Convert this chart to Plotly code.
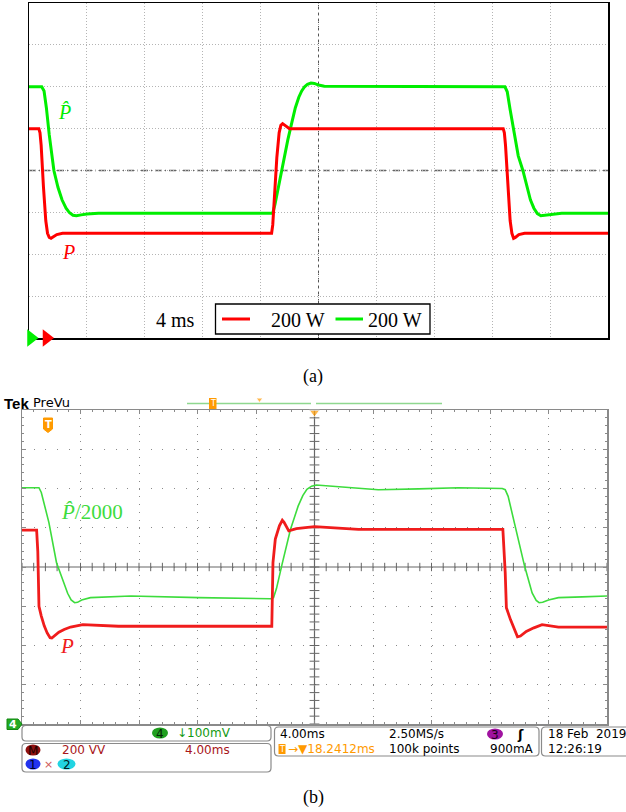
import numpy as np
import plotly.graph_objects as go

W, H = 626, 812

# ---------------- data (in scope divisions) ----------------
# panel (a): simulation, x in divisions (4 ms/div), y in divisions (200 W/div)
a_red_t = [0, 0.17, 0.19, 0.21, 0.25, 0.29, 0.32, 0.35, 0.38, 0.42, 0.48, 0.58,
           4.19, 4.21, 4.24, 4.28, 4.32, 4.35, 4.38, 4.41, 4.45, 4.5,
           8.19, 8.21, 8.23, 8.27, 8.31, 8.34, 8.37, 8.40, 8.46, 8.56, 10]
a_red_v = [1.0, 1.0, 0.9, 0.6, -0.4, -1.2, -1.5, -1.6, -1.62, -1.58, -1.53, -1.5,
           -1.5, -1.3, -0.6, 0.3, 0.9, 1.08, 1.12, 1.09, 1.03, 1.0,
           1.0, 0.9, 0.6, -0.4, -1.2, -1.5, -1.62, -1.6, -1.53, -1.5, -1.5]
a_green_t = [0, 0.22, 0.26, 0.30, 0.35, 0.43, 0.50, 0.57, 0.64, 0.70, 0.76, 0.82, 0.90, 1.0, 1.2,
             4.21, 4.25, 4.33, 4.40, 4.47, 4.54, 4.60, 4.66, 4.71, 4.76, 4.81, 4.87, 4.93, 5.0, 5.1,
             8.22, 8.26, 8.31, 8.37, 8.45, 8.53, 8.60, 8.66, 8.72, 8.78, 8.84, 8.92, 9.02, 9.2, 10]
a_green_v = [2.0, 2.0, 1.9, 1.5, 0.85, 0.0, -0.4, -0.7, -0.9, -1.01, -1.07, -1.08, -1.06, -1.04, -1.02,
             -1.02, -0.8, -0.22, 0.3, 0.73, 1.15, 1.5, 1.75, 1.9, 2.0, 2.06, 2.09, 2.08, 2.04, 2.01,
             2.0, 1.88, 1.45, 0.95, 0.35, 0.0, -0.4, -0.7, -0.9, -1.03, -1.08, -1.07, -1.05, -1.02, -1.02]

# panel (b): oscilloscope capture
b_green_t = [0, 0.29, 0.33, 0.38, 0.46, 0.59, 0.70, 0.78, 0.84, 0.90, 0.95, 1.02, 1.17, 1.86, 3.02, 4.25,
             4.30, 4.35, 4.45, 4.59, 4.72, 4.80, 4.87, 4.95, 5.03, 5.27, 5.7, 6.09, 6.78, 7.46, 8.21,
             8.26, 8.31, 8.42, 8.59, 8.72, 8.79, 8.84, 8.90, 9.0, 9.17, 9.58, 10]
b_green_v = [2.02, 2.02, 1.9, 1.6, 1.13, 0.11, -0.36, -0.67, -0.84, -0.91, -0.9, -0.84, -0.78, -0.74, -0.78, -0.81,
             -0.78, -0.55, 0.1, 0.96, 1.55, 1.82, 1.98, 2.06, 2.09, 2.06, 2.0, 1.97, 1.99, 2.02, 2.0,
             1.97, 1.8, 1.13, 0.03, -0.66, -0.85, -0.91, -0.9, -0.84, -0.78, -0.76, -0.74]
b_red_t = [0, 0.25, 0.27, 0.29, 0.33, 0.38, 0.43, 0.48, 0.51, 0.56, 0.63, 0.72, 0.83, 1.04, 1.65, 3.02, 4.27,
           4.29, 4.33, 4.40, 4.43, 4.45, 4.48, 4.51, 4.56, 4.69, 5.0, 5.75, 7.12, 8.22,
           8.26, 8.28, 8.35, 8.42, 8.47, 8.52, 8.62, 8.75, 8.89, 9.17, 10]
b_red_v = [0.94, 0.94, 0.4, -1.0, -1.25, -1.5, -1.68, -1.8, -1.81, -1.74, -1.66, -1.59, -1.53, -1.47, -1.51, -1.51, -1.51,
           0.11, 0.71, 1.05, 1.16, 1.19, 1.14, 1.05, 0.92, 0.98, 1.03, 0.96, 0.95, 0.96,
           -0.14, -1.04, -1.34, -1.62, -1.78, -1.76, -1.64, -1.55, -1.47, -1.53, -1.53]

legend_labels = ["4 ms", "200 W", "200 W"]
scope_row1 = ["4.00ms", "2.50MS/s"]
scope_row2 = ["100k points", "900mA"]

# ---------------- helpers ----------------
def dom_x(a, b):
    return [a / W, b / W]

def dom_y(top, bottom):
    return [1 - bottom / H, 1 - top / H]

def rrect(x0, y0, x1, y1, r):
    return (f"M{x0+r},{y0} L{x1-r},{y0} Q{x1},{y0} {x1},{y0+r} L{x1},{y1-r} Q{x1},{y1} {x1-r},{y1} "
            f"L{x0+r},{y1} Q{x0},{y1} {x0},{y1-r} L{x0},{y0+r} Q{x0},{y0} {x0+r},{y0} Z")

SERIF = "Liberation Serif, Times New Roman, serif"
SANS = "DejaVu Sans, sans-serif"

fig = go.Figure()

# ---- panel (a) traces
fig.add_trace(go.Scatter(x=a_green_t, y=a_green_v, mode="lines", line=dict(color="#00ee00", width=3),
                         xaxis="x", yaxis="y", hoverinfo="skip"))
fig.add_trace(go.Scatter(x=a_red_t, y=a_red_v, mode="lines", line=dict(color="#ff0000", width=3),
                         xaxis="x", yaxis="y", hoverinfo="skip"))

# ---- panel (b) center-cross ticks
tick_x = np.round(np.arange(0, 10.001, 0.2), 3)
tick_y = np.round(np.arange(-4, 4.001, 0.2), 3)
fig.add_trace(go.Scatter(x=tick_x, y=np.zeros_like(tick_x), mode="markers",
                         marker=dict(symbol="line-ns", size=6, line=dict(color="#666", width=1)),
                         xaxis="x2", yaxis="y2", hoverinfo="skip"))
fig.add_trace(go.Scatter(x=np.full_like(tick_y, 5.0), y=tick_y, mode="markers",
                         marker=dict(symbol="line-ew", size=7, line=dict(color="#666", width=1)),
                         xaxis="x2", yaxis="y2", hoverinfo="skip"))

# ---- panel (b) traces
fig.add_trace(go.Scatter(x=b_green_t, y=b_green_v, mode="lines", line=dict(color="#3ddc3d", width=1.6),
                         xaxis="x2", yaxis="y2", hoverinfo="skip"))
fig.add_trace(go.Scatter(x=b_red_t, y=b_red_v, mode="lines", line=dict(color="#f01c1c", width=2.8),
                         xaxis="x2", yaxis="y2", hoverinfo="skip"))

# ---- overlay (pixel coords) markers
fig.add_trace(go.Scatter(x=[31], y=[338], mode="markers", marker=dict(symbol="triangle-right", size=15, color="#00ee00"),
                         xaxis="x3", yaxis="y3", hoverinfo="skip", cliponaxis=False))
fig.add_trace(go.Scatter(x=[46.5], y=[338], mode="markers", marker=dict(symbol="triangle-right", size=15, color="#ff0000"),
                         xaxis="x3", yaxis="y3", hoverinfo="skip", cliponaxis=False))
fig.add_trace(go.Scatter(x=[259.5, 314.5], y=[399.5, 412.5], mode="markers",
                         marker=dict(symbol="triangle-down", size=[6, 9], color="#ff9a00"),
                         xaxis="x3", yaxis="y3", hoverinfo="skip", cliponaxis=False))

shapes = []
# (a) centre lines
shapes.append(dict(type="line", xref="x", yref="y", x0=5, x1=5, y0=-4, y1=4, layer="below",
                   line=dict(color="#555", width=1, dash="4px,3px")))
shapes.append(dict(type="line", xref="x", yref="y", x0=0, x1=10, y0=0, y1=0, layer="below",
                   line=dict(color="#666", width=1.4, dash="7px,3px,1px,3px")))
# (a) legend box
shapes.append(dict(type="rect", xref="x3", yref="y3", x0=215.5, x1=430, y0=304, y1=334, layer="above",
                   fillcolor="white", line=dict(color="black", width=1.3)))
shapes.append(dict(type="line", xref="x3", yref="y3", x0=222, x1=250, y0=319, y1=319, layer="above",
                   line=dict(color="#ff0000", width=3)))
shapes.append(dict(type="line", xref="x3", yref="y3", x0=335.5, x1=363, y0=319, y1=319, layer="above",
                   line=dict(color="#00ee00", width=3)))
# (b) centre cross
shapes.append(dict(type="line", xref="x2", yref="y2", x0=5, x1=5, y0=-4, y1=4, layer="below",
                   line=dict(color="#666", width=1.2)))
shapes.append(dict(type="line", xref="x2", yref="y2", x0=0, x1=10, y0=0, y1=0, layer="below",
                   line=dict(color="#666", width=1.2)))
# (b) top green record bar
shapes.append(dict(type="line", xref="x3", yref="y3", x0=187, x1=311, y0=403.5, y1=403.5,
                   line=dict(color="#8fd88f", width=1.5)))
shapes.append(dict(type="line", xref="x3", yref="y3", x0=316, x1=442, y0=403.5, y1=403.5,
                   line=dict(color="#8fd88f", width=1.5)))
shapes.append(dict(type="rect", xref="x3", yref="y3", x0=209, x1=216.5, y0=398, y1=409,
                   fillcolor="#ff9a00", line=dict(width=0)))
# orange trigger marker inside
shapes.append(dict(type="path", xref="x3", yref="y3",
                   path="M43.5,418 L52.5,418 L52.5,429 L48,432.5 L43.5,429 Z",
                   fillcolor="#ff9a00", line=dict(color="#ff9a00", width=1)))
# green ch4 marker
shapes.append(dict(type="path", xref="x3", yref="y3",
                   path="M7,719 L18,719 L22,724 L18,729.5 L7,729.5 Z",
                   fillcolor="#22aa22", line=dict(color="#118811", width=1)))
# bottom info boxes
for (x0, y0, x1, y1) in [(22, 725.5, 271, 741), (22, 743.5, 271, 772), (274.5, 727, 539, 756), (541.5, 727, 640, 756)]:
    shapes.append(dict(type="path", xref="x3", yref="y3", path=rrect(x0, y0, x1, y1, 4),
                       fillcolor="rgba(255,255,255,0)", line=dict(color="#8a8a8a", width=1.2)))
# coloured channel badges
for (cx, cy, w, h, col) in [(160, 733, 16, 11, "#1f9f1f"), (33, 750, 15, 11, "#8e1010"), (33, 764, 15, 11, "#2233ee"),
                            (66.5, 764, 18, 11, "#22d4e2"), (495, 734, 16, 11, "#a012a0")]:
    shapes.append(dict(type="circle", xref="x3", yref="y3", x0=cx - w / 2, x1=cx + w / 2, y0=cy - h / 2, y1=cy + h / 2,
                       fillcolor=col, line=dict(width=0)))
shapes.append(dict(type="rect", xref="x3", yref="y3", x0=278.5, x1=285.5, y0=744, y1=754,
                   fillcolor="#ff9a00", line=dict(width=0)))

ann = []
def txt(x, y, s, size, color="black", family=SANS, xanchor="left", yanchor="middle", **kw):
    ann.append(dict(x=x, y=y, xref="x3", yref="y3", text=s, showarrow=False, xanchor=xanchor, yanchor=yanchor,
                    font=dict(family=family, size=size, color=color), **kw))

# (a) texts
txt(175, 320, legend_labels[0], 20, family=SERIF, xanchor="center")
txt(269, 320, legend_labels[1], 20, family=SERIF)
txt(366, 320, legend_labels[2], 20, family=SERIF)
txt(64, 112, "<i>P\u0302</i>", 20, color="#00ee00", family=SERIF, xanchor="center")
txt(68, 252, "<i>P</i>", 20, color="#ff0000", family=SERIF, xanchor="center")
txt(313, 376, "(a)", 18, family=SERIF, xanchor="center")
txt(313, 797, "(b)", 18, family=SERIF, xanchor="center")

# (b) texts
txt(2, 403, "<b>Tek</b>", 15, family="Liberation Sans, sans-serif")
txt(31, 402, "PreVu", 13)
txt(212.8, 403.5, "T", 8, color="white", xanchor="center")
txt(48, 424, "<b>T</b>", 10, color="white", xanchor="center")
txt(13, 724.5, "<b>4</b>", 11, color="white", xanchor="center")
txt(59, 512, "<i>P\u0302</i>/2000", 21, color="#3ddc3d", family=SERIF)
txt(67, 646, "<i>P</i>", 21, color="#f01c1c", family=SERIF, xanchor="center")

txt(160, 733.5, "4", 12, color="#052505", xanchor="center")
txt(175, 733, "↓100mV", 12, color="#139a13")
txt(33, 750.5, "M", 12, color="#1a0000", xanchor="center")
txt(60, 750, "200 VV", 12, color="#a8161a")
txt(183, 750, "4.00ms", 12, color="#a8161a")
txt(33, 764.5, "1", 12, color="#000022", xanchor="center")
txt(48, 764, "×", 11, color="#d05a5a", xanchor="center")
txt(66.5, 764.5, "2", 12, color="#002022", xanchor="center")

txt(278, 734, scope_row1[0], 12)
txt(387, 734, scope_row1[1], 12)
txt(495, 734.5, "3", 12, color="#1a001a", xanchor="center")
txt(520, 734, "<b>ʃ</b>", 13, xanchor="center")
txt(282, 749, "T", 8, color="white", xanchor="center")
txt(286, 749, "→▼18.2412ms", 12, color="#ff9a00")
txt(387, 749, scope_row2[0], 12)
txt(488, 749, scope_row2[1], 12)
txt(546, 734, "18 Feb  2019", 12)
txt(546, 749, "12:26:19", 12)

common_hidden = dict(showticklabels=False, zeroline=False, fixedrange=True)

fig.update_layout(
    width=W, height=H, autosize=False,
    margin=dict(l=0, r=0, t=0, b=0, pad=0),
    paper_bgcolor="white", plot_bgcolor="rgba(0,0,0,0)",
    showlegend=False,
    xaxis=dict(domain=dom_x(29, 608), range=[0, 10], dtick=1, tick0=0, showgrid=True, gridcolor="#b4b4b4",
               griddash="1px,2px", gridwidth=1, showline=True, linecolor="black", linewidth=1.5, mirror=True,
               ticks="", anchor="y", **common_hidden),
    yaxis=dict(domain=dom_y(3, 338), range=[-4, 4], dtick=1, tick0=0, showgrid=True, gridcolor="#b4b4b4",
               griddash="1px,2px", gridwidth=1, showline=True, linecolor="black", linewidth=1.5, mirror=True,
               ticks="", anchor="x", **common_hidden),
    xaxis2=dict(domain=dom_x(22, 607), range=[0, 10], dtick=1, tick0=0, showgrid=True, gridcolor="#8a8a8a",
                griddash="1px,6.85px", gridwidth=1, showline=True, linecolor="#8a8a8a", linewidth=1.5, mirror="ticks",
                ticks="inside", ticklen=4, tickcolor="#8a8a8a",
                minor=dict(dtick=0.2, tick0=0, ticks="inside", ticklen=2, tickcolor="#8a8a8a", showgrid=False),
                anchor="y2", **common_hidden),
    yaxis2=dict(domain=dom_y(410, 724), range=[-4, 4], dtick=1, tick0=0, showgrid=True, gridcolor="#8a8a8a",
                griddash="1px,10.7px", gridwidth=1, showline=True, linecolor="#8a8a8a", linewidth=1.5, mirror="ticks",
                ticks="inside", ticklen=4, tickcolor="#8a8a8a",
                minor=dict(dtick=0.2, tick0=0, ticks="inside", ticklen=2, tickcolor="#8a8a8a", showgrid=False),
                anchor="x2", **common_hidden),
    xaxis3=dict(domain=[0, 1], range=[0, W], visible=False, anchor="y3", fixedrange=True),
    yaxis3=dict(domain=[0, 1], range=[H, 0], visible=False, anchor="x3", fixedrange=True),
    shapes=shapes,
    annotations=ann,
)

fig.write_html("out.html", config=dict(displayModeBar=False, staticPlot=True))
